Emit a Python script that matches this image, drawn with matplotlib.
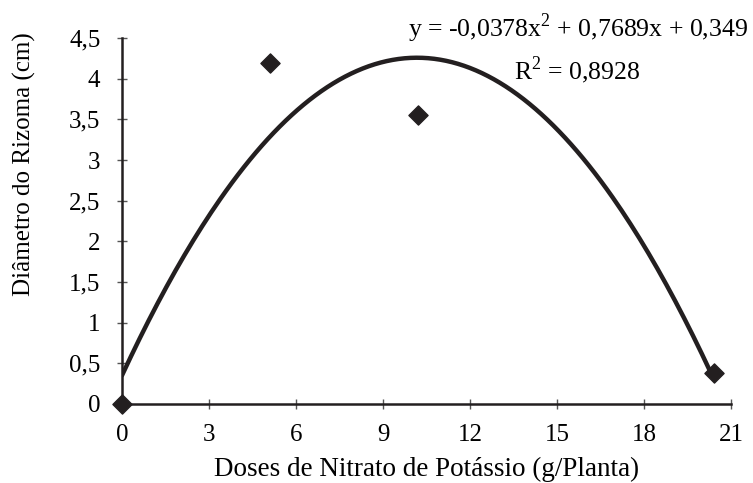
import numpy as np
import matplotlib
matplotlib.use("Agg")
import matplotlib.pyplot as plt

# observed data
doses = [0, 5.1, 10.2, 20.4]
diametro = [0.0, 4.2, 3.56, 0.38]

# trend line coefficients as printed on the chart (a*x^2 + b*x + c)
coef = [-0.0378, 0.7689, 0.349]

xticks = [0, 3, 6, 9, 12, 15, 18, 21]
yticks = [0, 0.5, 1, 1.5, 2, 2.5, 3, 3.5, 4, 4.5]
ytick_labels = ["0", "0,5", "1", "1,5", "2", "2,5", "3", "3,5", "4", "4,5"]

plt.rcParams['font.family'] = ['Liberation Serif', 'DejaVu Serif']
plt.rcParams['mathtext.fontset'] = 'custom'
plt.rcParams['mathtext.rm'] = 'Liberation Serif'

fig = plt.figure(figsize=(7.53, 4.83), dpi=100)
ax = fig.add_axes([0.162, 0.164, 0.809, 0.757])

xs = np.linspace(doses[0], doses[-1], 200)
ax.plot(xs, np.polyval(coef, xs), color='#231f20', lw=3.2, zorder=2, solid_capstyle='round')
ax.scatter(doses, diametro, marker='D', s=95, color='#231f20', zorder=3, clip_on=False)

ax.set_xlim(0, 21)
ax.set_ylim(0, 4.5)
ax.set_xticks(xticks)
ax.set_xticklabels([str(t) for t in xticks])
ax.set_yticks(yticks)
ax.set_yticklabels(ytick_labels)

for side in ['top', 'right']:
    ax.spines[side].set_visible(False)
for side in ['left', 'bottom']:
    ax.spines[side].set_linewidth(1.8)
    ax.spines[side].set_color('#231f20')

ax.tick_params(axis='x', direction='inout', length=7, width=1, color='#555555',
               labelsize=18, pad=11)
ax.tick_params(axis='y', direction='inout', length=7, width=1, color='#555555',
               labelsize=18, pad=12)

ax.set_xlabel("Doses de Nitrato de Potássio (g/Planta)", fontsize=19.5, labelpad=8)
# y label sits a bit above the axes centre in the original
fig.text(0.032, 0.66, "Diâmetro do Rizoma (cm)", rotation=90,
         ha='center', va='center', fontsize=18)

fig.text(0.768, 0.977, "y = -0,0378x$^{2}$ + 0,7689x + 0,349",
         ha='center', va='top', fontsize=18.5)
fig.text(0.766, 0.887, "R$^{2}$ = 0,8928",
         ha='center', va='top', fontsize=18.5)

fig.savefig("out.png", dpi=100)
